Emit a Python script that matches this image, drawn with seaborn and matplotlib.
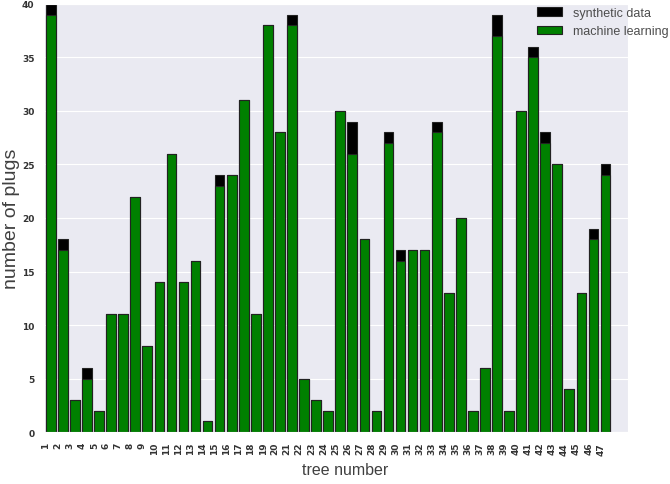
import numpy as np
import pandas as pd
import matplotlib
matplotlib.use('Agg')
import matplotlib.pyplot as plt
import seaborn as sns

trees = [str(i) for i in range(1, 48)]
machine_learning = [39, 17, 3, 5, 2, 11, 11, 22, 8, 14, 26, 14, 16, 1, 23, 24,
                    31, 11, 38, 28, 38, 5, 3, 2, 30, 26, 18, 2, 27, 16, 17, 17,
                    28, 13, 20, 2, 6, 37, 2, 30, 35, 27, 25, 4, 13, 18, 24]
synthetic_data = [1, 1, 0, 1, 0, 0, 0, 0, 0, 0, 0, 0, 0, 0, 1, 0,
                  0, 0, 0, 0, 1, 0, 0, 0, 0, 3, 0, 0, 1, 1, 0, 0,
                  1, 0, 0, 0, 0, 2, 0, 0, 1, 1, 0, 0, 0, 1, 1]

df = pd.DataFrame({'tree': trees, 'ml': machine_learning, 'syn': synthetic_data})
df['total'] = df['ml'] + df['syn']

sns.set_style('darkgrid')
plt.rcParams['font.family'] = ['Liberation Sans', 'DejaVu Sans']
fig, ax = plt.subplots(figsize=(6.7, 4.85), dpi=100)
fig.subplots_adjust(left=0.066, right=0.937, top=0.99, bottom=0.107)

sns.barplot(data=df, x='tree', y='total', color='black', saturation=1,
            edgecolor='#222222', linewidth=0.8, label='synthetic data', ax=ax)
sns.barplot(data=df, x='tree', y='ml', color='#008000', saturation=1,
            edgecolor='#222222', linewidth=0.8, label='machine learning', ax=ax)

# ticks sit on the left edge of each bar, like the old matplotlib default
pos = np.arange(len(trees)) - 0.4
ax.set_xticks(pos)
ax.set_xticklabels(trees, rotation=90, fontsize=6.5, fontweight='bold',
                   color='.2', family='DejaVu Sans')
ax.set_xlim(-0.55, 47.85)
ax.set_ylim(0, 40)
ax.set_yticks(range(0, 41, 5))
ax.set_yticklabels([str(v) for v in range(0, 41, 5)], fontsize=6.5,
                   fontweight='bold', color='.2', family='DejaVu Sans')

ax.set_xlabel('tree number', fontsize=11.5, color='.25')
ax.set_ylabel('number of plugs', fontsize=14, color='.25')
ax.yaxis.set_label_coords(-0.041, 0.5)
ax.xaxis.set_label_coords(0.515, -0.07)

leg = ax.legend(loc='upper right', bbox_to_anchor=(1.083, 1.01), frameon=False,
                fontsize=9, handlelength=2.0, handletextpad=0.9, borderaxespad=0.2)
for t in leg.get_texts():
    t.set_color('.3')

plt.savefig('out.png', dpi=100)
